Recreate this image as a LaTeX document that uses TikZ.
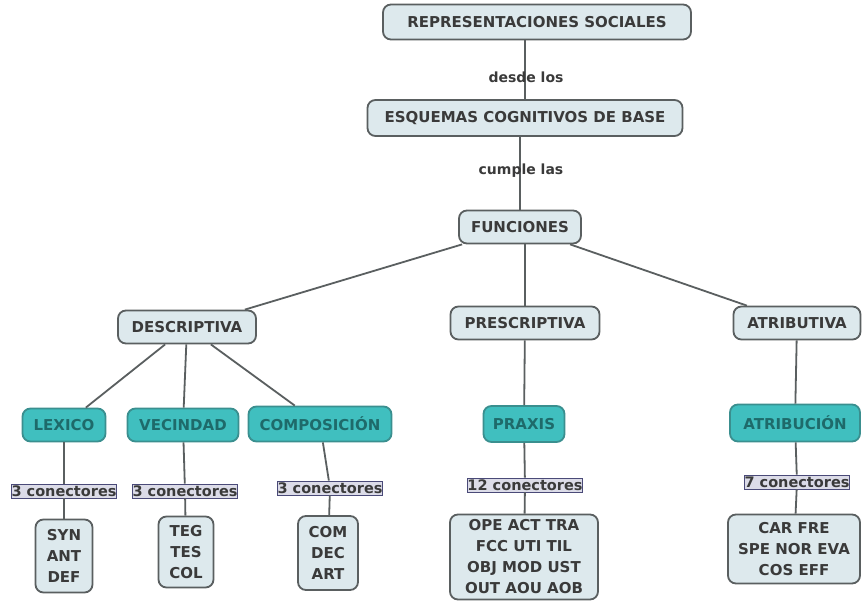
\documentclass[tikz,border=0pt]{standalone}
\usepackage{fontspec}
\setmainfont{DejaVu Sans}
\definecolor{lightfill}{HTML}{DDE9ED}
\definecolor{boxline}{HTML}{5A5F60}
\definecolor{tealfill}{HTML}{40BFBF}
\definecolor{tealline}{HTML}{3A8F8F}
\definecolor{tealtext}{HTML}{1E6A6A}
\definecolor{txt}{HTML}{3A3A3A}
\definecolor{labfill}{HTML}{DCDCE8}
\definecolor{labline}{HTML}{4A4A78}
\tikzset{
  x=1pt, y=-1pt,
  concept/.style={draw=boxline, line width=1.8pt, fill=lightfill, rounded corners=8pt,
    text=txt, font=\bfseries\fontsize{15}{21}\selectfont, align=center, inner sep=0pt},
  tealbox/.style={draw=tealline, line width=1.8pt, fill=tealfill, rounded corners=8pt,
    text=tealtext, font=\bfseries\fontsize{15}{21}\selectfont, align=center, inner sep=0pt},
  linklabel/.style={text=txt, font=\bfseries\fontsize{14}{16}\selectfont, inner sep=1pt},
  conlabel/.style={draw=labline, line width=0.8pt, fill=labfill, text=txt,
    font=\bfseries\fontsize{14.5}{15}\selectfont, inner sep=0.3pt, minimum height=14pt},
  link/.style={draw=boxline, line width=1.8pt},
}
\begin{document}
\begin{tikzpicture}
\useasboundingbox[fill=white] (0,0) rectangle (863,605);
% nodes
\node[concept, minimum width=308pt, minimum height=35pt] (rep) at (537,22) {REPRESENTACIONES SOCIALES};
\node[concept, minimum width=315pt, minimum height=36pt] (esq) at (525,118) {ESQUEMAS COGNITIVOS DE BASE};
\node[concept, minimum width=122pt, minimum height=33pt] (fun) at (520,227) {FUNCIONES};
\node[concept, minimum width=138pt, minimum height=33pt] (des) at (187,327) {DESCRIPTIVA};
\node[concept, minimum width=149pt, minimum height=33pt] (pre) at (525,323) {PRESCRIPTIVA};
\node[concept, minimum width=127pt, minimum height=33pt] (atr) at (797,323) {ATRIBUTIVA};
\node[tealbox, minimum width=83pt, minimum height=33pt] (lex) at (64,425) {LEXICO};
\node[tealbox, minimum width=111pt, minimum height=33pt] (vec) at (183,425) {VECINDAD};
\node[tealbox, minimum width=143pt, minimum height=35pt] (com) at (320,424) {COMPOSICIÓN};
\node[tealbox, minimum width=81pt, minimum height=36pt] (pra) at (524,424) {PRAXIS};
\node[tealbox, minimum width=130pt, minimum height=37pt] (atc) at (795,423) {ATRIBUCIÓN};
\node[concept, minimum width=57pt, minimum height=73pt] (syn) at (64,556) {SYN\\ANT\\DEF};
\node[concept, minimum width=55pt, minimum height=71pt] (teg) at (186,552) {TEG\\TES\\COL};
\node[concept, minimum width=60pt, minimum height=74pt] (cda) at (328,553) {COM\\DEC\\ART};
\node[concept, minimum width=148pt, minimum height=85pt] (ope) at (524,557) {OPE ACT TRA\\FCC UTI TIL\\OBJ MOD UST\\OUT AOU AOB};
\node[concept, minimum width=132pt, minimum height=69pt] (car) at (794,549) {CAR FRE\\SPE NOR EVA\\COS EFF};
% connector labels
\node[conlabel] (c1) at (64,491) {3 conectores};
\node[conlabel] (c2) at (185,491) {3 conectores};
\node[conlabel] (c3) at (330,488) {3 conectores};
\node[conlabel] (c4) at (525,485) {12 conectores};
\node[conlabel] (c5) at (797,482) {7 conectores};
% links
\draw[link] (rep.south -| esq) -- (esq);
\draw[link] (esq.south -| fun) -- (fun);
\draw[link] (fun) -- (des);
\draw[link] (fun.south -| pre) -- (pre);
\draw[link] (fun) -- (atr);
\draw[link] (des) -- (lex);
\draw[link] (des) -- (vec);
\draw[link] (des) -- (com);
\draw[link] (pre) -- (pra);
\draw[link] (atr) -- (atc);
\draw[link] (lex) -- (c1) -- (syn);
\draw[link] (vec) -- (c2) -- (teg);
\draw[link] (com) -- (c3) -- (cda);
\draw[link] (pra) -- (c4) -- (ope);
\draw[link] (atc) -- (c5) -- (car);
\node[linklabel] (l1) at (526,77) {desde los};
\node[linklabel] (l2) at (521,171) {cumple las};
\end{tikzpicture}
\end{document}
